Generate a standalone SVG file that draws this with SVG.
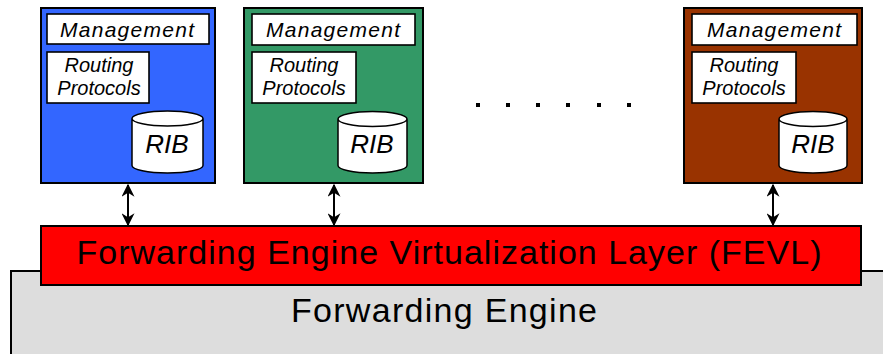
<svg xmlns="http://www.w3.org/2000/svg" width="883" height="354" viewBox="0 0 883 354">
<style>
.vr{stroke:#000;stroke-width:2}
.wb{fill:#fff;stroke:#000;stroke-width:1.6}
.mg{font-family:"Liberation Sans",Arial,sans-serif;font-style:italic;font-size:21px;fill:#000}
.rp{font-family:"Liberation Sans",Arial,sans-serif;font-style:italic;font-size:20px;fill:#000}
.rib{font-family:"Liberation Sans",Arial,sans-serif;font-style:italic;font-size:26px;fill:#000}
.big{font-family:"Liberation Sans",Arial,sans-serif;font-size:34px;fill:#000}
.cyl{fill:#fff;stroke:#000;stroke-width:1.5}
.conn{stroke:#000;stroke-width:2;fill:none}
</style>
<defs>
<marker id="ah" viewBox="0 0 10 10" refX="9" refY="5" markerWidth="6.5" markerHeight="6.5" orient="auto-start-reverse" markerUnits="strokeWidth">
<path d="M0,0 L10,5 L0,10 L3,5 z" fill="#000"/>
</marker>
</defs>
<g id="engine">
<rect x="11" y="271" width="880" height="90" fill="#dddddd" stroke="#000" stroke-width="2"/>
<text class="big" x="444" y="322" text-anchor="middle" textLength="306" lengthAdjust="spacing">Forwarding Engine</text>
</g>
<g id="fevl">
<rect x="41" y="226" width="820" height="59" fill="#ff0000" stroke="#000" stroke-width="2"/>
<text class="big" x="449" y="264" text-anchor="middle" textLength="745" lengthAdjust="spacing">Forwarding Engine Virtualization Layer (FEVL)</text>
</g>
<g id="vr1">
<rect class="vr" x="41" y="8" width="174" height="175" fill="#3366ff"/>
<rect class="wb" x="47" y="14" width="162" height="30"/>
<text class="mg" x="127" y="37" text-anchor="middle" textLength="134" lengthAdjust="spacing">Management</text>
<rect class="wb" x="47" y="52" width="102" height="51"/>
<text class="rp" x="99" y="72" text-anchor="middle">Routing</text>
<text class="rp" x="99" y="95" text-anchor="middle">Protocols</text>
<path class="cyl" d="M132,118.5 L132,165.5 A35.5,7.5 0 0 0 203,165.5 L203,118.5 A35.5,7.5 0 0 0 132,118.5 A35.5,7.5 0 0 0 203,118.5"/>
<text class="rib" x="167" y="153" text-anchor="middle">RIB</text>
</g>
<g id="vr2">
<rect class="vr" x="244" y="8" width="179" height="175" fill="#339966"/>
<rect class="wb" x="252" y="14" width="163" height="31"/>
<text class="mg" x="333" y="37" text-anchor="middle" textLength="134" lengthAdjust="spacing">Management</text>
<rect class="wb" x="252" y="52" width="104" height="51"/>
<text class="rp" x="304" y="72" text-anchor="middle">Routing</text>
<text class="rp" x="304" y="95" text-anchor="middle">Protocols</text>
<path class="cyl" d="M338,119 L338,165.5 A34.5,7.5 0 0 0 407,165.5 L407,119 A34.5,7.5 0 0 0 338,119 A34.5,7.5 0 0 0 407,119"/>
<text class="rib" x="372" y="153" text-anchor="middle">RIB</text>
</g>
<g id="dots" fill="#000">
<rect x="476" y="103" width="4" height="4"/>
<rect x="506" y="103" width="4" height="4"/>
<rect x="536" y="103" width="4" height="4"/>
<rect x="566" y="103" width="4" height="4"/>
<rect x="597" y="103" width="4" height="4"/>
<rect x="627" y="103" width="4" height="4"/>
</g>
<g id="vr3">
<rect class="vr" x="684" y="8" width="178" height="175" fill="#993300"/>
<rect class="wb" x="692" y="14" width="165" height="31"/>
<text class="mg" x="774" y="37" text-anchor="middle" textLength="134" lengthAdjust="spacing">Management</text>
<rect class="wb" x="692" y="52" width="104" height="51"/>
<text class="rp" x="744" y="72" text-anchor="middle">Routing</text>
<text class="rp" x="744" y="95" text-anchor="middle">Protocols</text>
<path class="cyl" d="M779,119 L779,165.5 A34,7.5 0 0 0 847,165.5 L847,119 A34,7.5 0 0 0 779,119 A34,7.5 0 0 0 847,119"/>
<text class="rib" x="813" y="153" text-anchor="middle">RIB</text>
</g>
<g id="connectors">
<line class="conn" x1="128" y1="185" x2="128" y2="225" marker-start="url(#ah)" marker-end="url(#ah)"/>
<line class="conn" x1="334" y1="185" x2="334" y2="225" marker-start="url(#ah)" marker-end="url(#ah)"/>
<line class="conn" x1="773" y1="185" x2="773" y2="225" marker-start="url(#ah)" marker-end="url(#ah)"/>
</g>
</svg>
